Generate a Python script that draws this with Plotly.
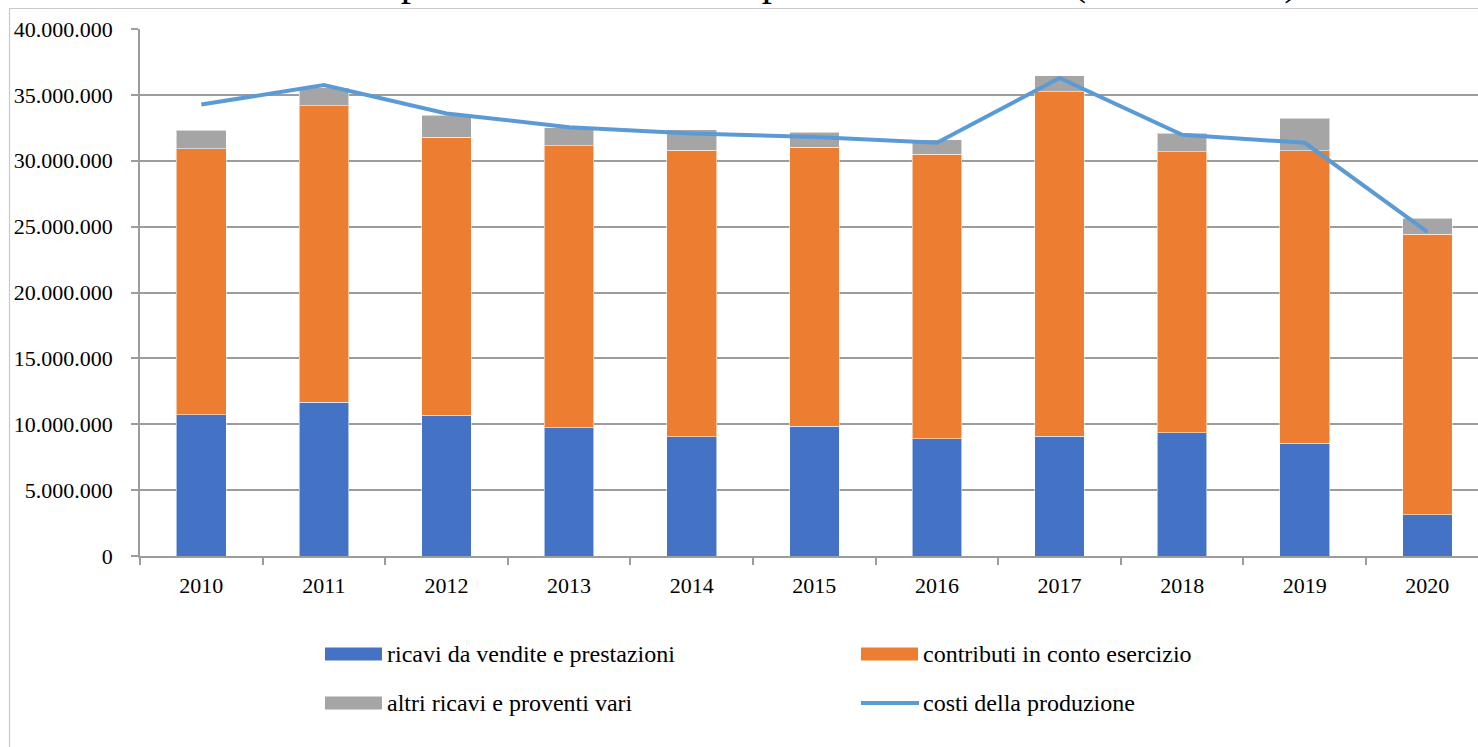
import plotly.graph_objects as go

# ---------------- data ----------------
years = ["2010", "2011", "2012", "2013", "2014", "2015", "2016", "2017", "2018", "2019", "2020"]
ricavi_vendite = [10730000, 11670000, 10700000, 9740000, 9050000, 9860000, 8900000, 9080000, 9340000, 8550000, 3120000]
contributi_esercizio = [20200000, 22500000, 21070000, 21390000, 21750000, 21170000, 21600000, 26150000, 21340000, 22200000, 21290000]
altri_ricavi = [1370000, 1390000, 1690000, 1370000, 1570000, 1140000, 1110000, 1240000, 1390000, 2460000, 1240000]
costi_produzione = [34270000, 35740000, 33590000, 32550000, 32070000, 31810000, 31360000, 36290000, 31970000, 31360000, 24610000]

series_names = ["ricavi da vendite e prestazioni", "contributi in conto esercizio",
                "altri ricavi e proventi vari", "costi della produzione"]
title_text = "Composizione ricavi della produzione e costi (2010 - 2020)"
y_tickvals = [0, 5000000, 10000000, 15000000, 20000000, 25000000, 30000000, 35000000, 40000000]

# ---------------- layout geometry ----------------
W, H = 1478, 747
ML, MR, MT, MB = 140, 0, 29, 191
PW = W - ML - MR
PH = H - MT - MB

def px_x(p):
    return (p - ML) / PW

def px_y(p):
    return (H - MB - p) / PH

BLUE, ORANGE, GRAY, LINE = "#4472C4", "#ED7D31", "#A5A5A5", "#5B9BD5"
AXIS = "#9c9c9c"
FONT = "Liberation Serif, Times New Roman, serif"
colors = [BLUE, ORANGE, GRAY]

fig = go.Figure()
for name, vals, col in zip(series_names[:3], [ricavi_vendite, contributi_esercizio, altri_ricavi], colors):
    fig.add_trace(go.Bar(
        x=years, y=vals, name=name, marker_color=col,
        marker_line=dict(color="rgba(255,255,255,0.55)", width=1),
        showlegend=False,
    ))
fig.add_trace(go.Scatter(
    x=years, y=costi_produzione, name=series_names[3], mode="lines",
    line=dict(color=LINE, width=4), showlegend=False,
))

# ---------- manual legend (Excel style swatches) ----------
shapes = []
annotations = []
legend_items = [
    (series_names[0], BLUE, "bar", 325, 654),
    (series_names[1], ORANGE, "bar", 861, 654),
    (series_names[2], GRAY, "bar", 325, 703),
    (series_names[3], LINE, "line", 861, 703),
]
for name, col, kind, sx, sy in legend_items:
    if kind == "bar":
        shapes.append(dict(type="rect", xref="paper", yref="paper",
                           x0=px_x(sx), x1=px_x(sx + 57), y0=px_y(sy - 6.5), y1=px_y(sy + 6.5),
                           fillcolor=col, line=dict(width=0)))
    else:
        shapes.append(dict(type="line", xref="paper", yref="paper",
                           x0=px_x(sx), x1=px_x(sx + 58), y0=px_y(sy), y1=px_y(sy),
                           line=dict(color=col, width=4)))
    annotations.append(dict(text=name, xref="paper", yref="paper", x=px_x(sx + 60), y=px_y(sy),
                            xanchor="left", yanchor="middle", showarrow=False,
                            font=dict(family=FONT, size=24, color="#000000")))

# chart-area border
shapes.append(dict(type="rect", xref="paper", yref="paper",
                   x0=px_x(9.5), x1=px_x(W + 20), y0=px_y(H + 20), y1=px_y(8.5),
                   line=dict(color="#c9c9c9", width=1.2), fillcolor="rgba(0,0,0,0)", layer="below"))

# title (cut at the top edge, as in the reference)
annotations.append(dict(text=title_text, xref="paper", yref="paper", x=px_x(809), y=px_y(6),
                        xanchor="center", yanchor="bottom", showarrow=False,
                        font=dict(family=FONT, size=41, color="#000000")))

fig.update_layout(
    width=W, height=H,
    margin=dict(l=ML, r=MR, t=MT, b=MB, pad=0),
    barmode="stack", bargap=0.595,
    paper_bgcolor="white", plot_bgcolor="white",
    separators=",.",
    font=dict(family=FONT, size=22, color="#000000"),
    shapes=shapes, annotations=annotations,
    showlegend=False,
)
fig.update_xaxes(
    type="category", range=[-0.5, 10.413],
    showline=True, linecolor=AXIS, linewidth=1.5,
    ticks="outside", tickson="boundaries", ticklen=7, tickcolor=AXIS, tickwidth=1.5,
    showgrid=False, ticklabelstandoff=9,
    tickfont=dict(family=FONT, size=22, color="#000000"),
)
fig.update_yaxes(
    range=[0, 40000000], tickvals=y_tickvals, tickformat=",.0f",
    showline=True, linecolor=AXIS, linewidth=1.5,
    ticks="outside", ticklen=7, tickcolor=AXIS, tickwidth=1.5,
    showgrid=True, gridcolor=AXIS, gridwidth=1.5, zeroline=False,
    ticklabelstandoff=14,
    tickfont=dict(family=FONT, size=22, color="#000000"),
)

fig.write_html("out.html")
